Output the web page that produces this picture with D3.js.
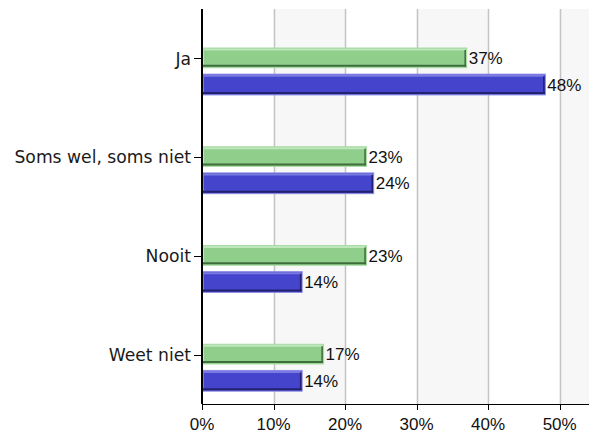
<!DOCTYPE html>
<html>
<head>
<meta charset="utf-8">
<script src="https://cdn.jsdelivr.net/npm/d3@7"></script>
<style>
  html, body { margin: 0; padding: 0; background: #fff; }
  svg { display: block; }
  text { font-family: "Liberation Sans", Arial, sans-serif; font-size: 17px; fill: #111; }
  text.ylab { font-family: "DejaVu Sans", sans-serif; font-size: 17.2px; fill: #1a1a1a; }
</style>
</head>
<body>
<svg id="chart" width="589" height="435"></svg>
<script>
// Answers per category, two series (percent)
const categories = ["Ja", "Soms wel, soms niet", "Nooit", "Weet niet"];
const seriesGreen = [37, 23, 23, 17];
const seriesBlue = [48, 24, 14, 14];
const xTicks = [0, 10, 20, 30, 40, 50];

const W = 589, H = 435;
const m = { top: 9, right: 0, bottom: 31, left: 202 };
const iw = W - m.left - m.right, ih = H - m.top - m.bottom;

const svg = d3.select("#chart");

const x = d3.scaleLinear().domain([0, 54.1]).range([0, iw]);
const y = d3.scaleBand().domain(categories).range([0, ih]);

const g = svg.append("g").attr("transform", `translate(${m.left},${m.top})`);

// alternating background bands
const bandEdges = [10, 20, 30, 40, 50, 60];
for (let i = 0; i < bandEdges.length - 1; i += 2) {
  const x0 = x(bandEdges[i]), x1 = Math.min(x(bandEdges[i + 1]), iw);
  g.append("rect").attr("x", x0).attr("y", 0).attr("width", x1 - x0).attr("height", ih)
    .attr("fill", "#f7f7f7");
}

// vertical gridlines
g.selectAll("line.grid").data(xTicks.filter(d => d > 0)).join("line")
  .attr("class", "grid")
  .attr("x1", d => Math.round(x(d)) + 0.5).attr("x2", d => Math.round(x(d)) + 0.5)
  .attr("y1", 0).attr("y2", ih)
  .attr("stroke", "#c4c4c4").attr("stroke-width", 1.5);

// bar styling with a raised look
function drawBar(sel, x0, y0, w, h, c) {
  const grp = sel.append("g");
  grp.append("rect").attr("x", x0).attr("y", y0).attr("width", w).attr("height", h)
    .attr("fill", c.fill).attr("stroke", c.border).attr("stroke-width", 1);
  grp.append("line").attr("x1", x0 + 1).attr("x2", x0 + w - 1)
    .attr("y1", y0 + 1.5).attr("y2", y0 + 1.5)
    .attr("stroke", c.light).attr("stroke-width", 2);
  grp.append("line").attr("x1", x0 + 1.5).attr("x2", x0 + 1.5)
    .attr("y1", y0 + 1).attr("y2", y0 + h - 1)
    .attr("stroke", c.light).attr("stroke-width", 1);
  grp.append("line").attr("x1", x0 + 1).attr("x2", x0 + w - 0.5)
    .attr("y1", y0 + h - 2).attr("y2", y0 + h - 2)
    .attr("stroke", c.dark).attr("stroke-width", 2);
  grp.append("line").attr("x1", x0 + w - 1.5).attr("x2", x0 + w - 1.5)
    .attr("y1", y0 + 2).attr("y2", y0 + h - 1)
    .attr("stroke", c.dark).attr("stroke-width", 1.5);
}

const green = { fill: "#8fcf8b", border: "#a9dca5", light: "#bfe6bc", dark: "#3f6d3c" };
const blue = { fill: "#4444cc", border: "#8b8be6", light: "#7a7ae0", dark: "#22226e" };

const bw = y.bandwidth();
categories.forEach((cat, i) => {
  const b = y(cat);
  const gy = b + bw * 0.395, gh = bw * 0.2;
  const by = b + bw * 0.66, bh = bw * 0.21;
  drawBar(g, 0, gy, x(seriesGreen[i]), gh, green);
  drawBar(g, 0, by, x(seriesBlue[i]), bh, blue);
  g.append("text").attr("x", x(seriesGreen[i]) + 2).attr("y", gy + gh / 2)
    .attr("dy", "0.36em").text(seriesGreen[i] + "%");
  g.append("text").attr("x", x(seriesBlue[i]) + 2).attr("y", by + bh / 2)
    .attr("dy", "0.36em").text(seriesBlue[i] + "%");
});

// category axis
const yTickPos = cat => y(cat) + bw * 0.5;
g.selectAll("line.ytick").data(categories).join("line")
  .attr("x1", -8).attr("x2", 0)
  .attr("y1", d => Math.round(yTickPos(d)) + 0.5).attr("y2", d => Math.round(yTickPos(d)) + 0.5)
  .attr("stroke", "#000");
g.selectAll("text.ylab").data(categories).join("text")
  .attr("class", "ylab")
  .attr("x", -11).attr("y", d => yTickPos(d)).attr("dy", "0.36em")
  .attr("text-anchor", "end").text(d => d);
g.append("line").attr("x1", 0).attr("x2", 0).attr("y1", 0).attr("y2", ih)
  .attr("stroke", "#000").attr("stroke-width", 2);

// value axis
g.append("line").attr("x1", 0).attr("x2", iw).attr("y1", ih + 0.5).attr("y2", ih + 0.5)
  .attr("stroke", "#000");
g.selectAll("line.xtick").data(xTicks).join("line")
  .attr("x1", d => Math.round(x(d)) + 0.5).attr("x2", d => Math.round(x(d)) + 0.5)
  .attr("y1", ih).attr("y2", ih + 6).attr("stroke", "#000");
g.selectAll("text.xlab").data(xTicks).join("text")
  .attr("x", d => x(d)).attr("y", ih + 26)
  .attr("text-anchor", "middle").text(d => d + "%");
</script>
</body>
</html>
